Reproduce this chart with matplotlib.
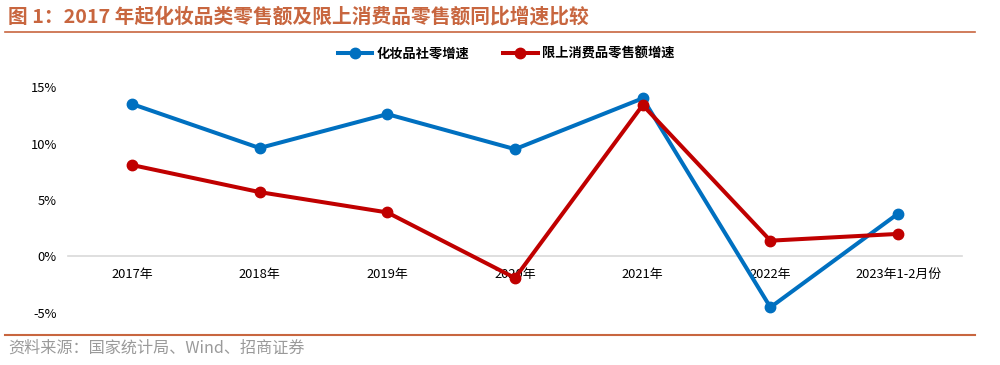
import matplotlib
matplotlib.use("Agg")
import matplotlib.pyplot as plt
from matplotlib.lines import Line2D

plt.rcParams['font.family'] = ['Noto Sans CJK SC', 'DejaVu Sans']

categories = ["2017年", "2018年", "2019年", "2020年", "2021年", "2022年", "2023年1-2月份"]
cosmetics = [13.5, 9.6, 12.6, 9.5, 14.0, -4.5, 3.8]
above_limit = [8.1, 5.7, 3.9, -1.9, 13.4, 1.4, 2.0]
yticks = [-5, 0, 5, 10, 15]
ytick_labels = ["-5%", "0%", "5%", "10%", "15%"]

title = "图 1：2017 年起化妆品类零售额及限上消费品零售额同比增速比较"
source = "资料来源：国家统计局、Wind、招商证券"
series_names = ["化妆品社零增速", "限上消费品零售额增速"]

blue = "#0070C0"
red = "#C00000"
accent = "#C8663F"

fig = plt.figure(figsize=(10, 3.65), dpi=100)
ax = fig.add_axes([0.068, 0.1425, 0.894, 0.6191])

x = list(range(len(categories)))
ax.plot(x, cosmetics, color=blue, lw=2.9, marker='o', ms=7.5, label=series_names[0])
ax.plot(x, above_limit, color=red, lw=2.9, marker='o', ms=7.5, label=series_names[1])

ax.set_xlim(-0.5, len(categories) - 0.5)
ax.set_ylim(-5, 15)
ax.set_yticks(yticks)
ax.set_yticklabels(ytick_labels)
ax.set_xticks(x)
ax.set_xticklabels(categories)
for s in ['top', 'right', 'left']:
    ax.spines[s].set_visible(False)
ax.spines['bottom'].set_position(('data', 0))
ax.spines['bottom'].set_color('#D9D9D9')
ax.spines['bottom'].set_linewidth(1.2)
ax.spines['bottom'].set_zorder(0)
ax.tick_params(axis='both', length=0, labelsize=9.3, colors='#000000')
ax.tick_params(axis='x', pad=8)
ax.tick_params(axis='y', pad=8)
for lbl in ax.get_xticklabels() + ax.get_yticklabels():
    lbl.set_fontweight('medium')

leg = fig.legend(handles=[Line2D([], [], color=blue, lw=2.9, marker='o', ms=7.5),
                          Line2D([], [], color=red, lw=2.9, marker='o', ms=7.5)],
                 labels=series_names, loc='center', bbox_to_anchor=(0.506, 0.853),
                 ncol=2, frameon=False, fontsize=9.5, handlelength=2.6,
                 columnspacing=2.6, handletextpad=0.3)
for t in leg.get_texts():
    t.set_fontweight('bold')

fig.text(0.008, 0.955, title, fontsize=14.2, fontweight='bold', color=accent, va='center', ha='left')
fig.add_artist(Line2D([0.005, 0.975], [0.913, 0.913], color=accent, lw=1.2, transform=fig.transFigure))
fig.add_artist(Line2D([0.005, 0.975], [0.082, 0.082], color=accent, lw=1.5, transform=fig.transFigure))
fig.text(0.008, 0.045, source, fontsize=11.6, color='#9A9A9A', va='center', ha='left')

fig.savefig("out.png", dpi=100)
